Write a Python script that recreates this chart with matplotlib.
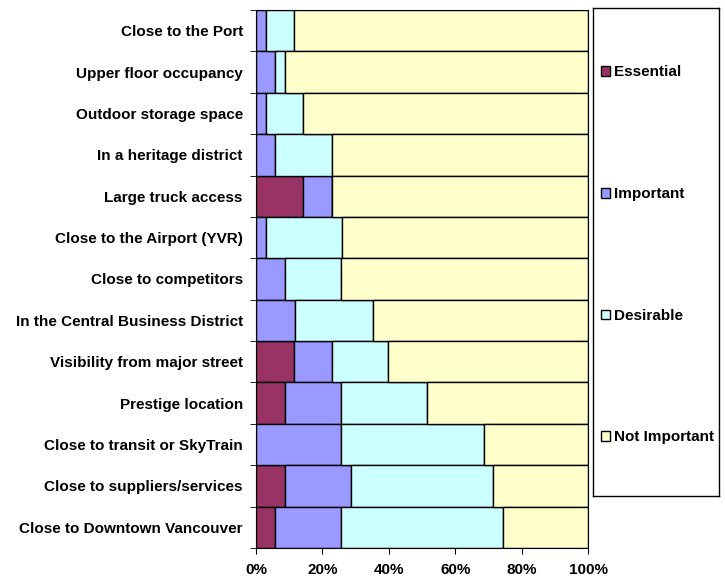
import matplotlib
matplotlib.use("Agg")
import matplotlib.pyplot as plt
import numpy as np

plt.rcParams["font.family"] = ["Liberation Sans", "DejaVu Sans"]
plt.rcParams["font.weight"] = "bold"

# factors, listed top to bottom as in the chart
factors = [
    "Close to the Port",
    "Upper floor occupancy",
    "Outdoor storage space",
    "In a heritage district",
    "Large truck access",
    "Close to the Airport (YVR)",
    "Close to competitors",
    "In the Central Business District",
    "Visibility from major street",
    "Prestige location",
    "Close to transit or SkyTrain",
    "Close to suppliers/services",
    "Close to Downtown Vancouver",
]

# share of responses (%)
essential = [0, 0, 0, 0, 14.3, 0, 0, 0, 11.4, 8.6, 0, 8.6, 5.7]
important = [2.9, 5.7, 2.9, 5.7, 8.6, 2.9, 8.6, 11.8, 11.4, 17.1, 25.7, 20.0, 20.0]
desirable = [8.6, 2.9, 11.4, 17.1, 0, 22.9, 17.1, 23.5, 17.1, 25.7, 42.9, 42.9, 48.6]
not_important = [88.6, 91.4, 85.7, 77.1, 77.1, 74.3, 74.3, 64.7, 60.0, 48.6, 31.4, 28.6, 25.7]

series = [
    ("Essential", essential, "#993366"),
    ("Important", important, "#9999FF"),
    ("Desirable", desirable, "#CCFFFF"),
    ("Not Important", not_important, "#FFFFCC"),
]

FS = 11.0

fig = plt.figure(figsize=(7.25, 5.79), dpi=100)
ax = fig.add_axes([256 / 725, 1 - 548 / 579, 332 / 725, 538 / 579])

y = np.arange(len(factors))
left = np.zeros(len(factors))
for name, vals, color in series:
    vals = np.array(vals)
    ax.barh(y, vals, left=left, height=1.0, color=color,
            edgecolor="black", linewidth=1.0, label=name)
    left += vals

ax.set_xlim(0, 100)
ax.set_ylim(len(factors) - 0.5, -0.5)
ax.set_xticks(range(0, 101, 20))
ax.set_xticklabels([f"{v}%" for v in range(0, 101, 20)], fontsize=FS, fontweight="bold")
ax.set_yticks(y)
ax.set_yticklabels(factors, fontsize=FS, fontweight="bold")
ax.tick_params(axis="y", length=0, pad=9.5)
ax.set_yticks(np.arange(-0.5, len(factors)), minor=True)
ax.tick_params(axis="y", which="minor", length=4, color="black")
ax.tick_params(axis="x", length=4, color="black", pad=7)
for s in ax.spines.values():
    s.set_color("black")

# legend sits in its own framed box to the right of the plot
lax = fig.add_axes([593 / 725, 1 - 496 / 579, 126 / 725, 488 / 579])
lax.set_xticks([])
lax.set_yticks([])
for s in lax.spines.values():
    s.set_color("black")
    s.set_linewidth(1.0)

handles, labels = ax.get_legend_handles_labels()
leg = lax.legend(handles, labels, loc="center left", bbox_to_anchor=(0, 0.494),
                 frameon=False, prop={"weight": "bold", "size": FS},
                 handlelength=0.6, handleheight=0.6, handletextpad=0.3,
                 labelspacing=7.05, borderpad=0.2, borderaxespad=0.3)
for p in leg.get_patches():
    p.set_edgecolor("black")

fig.savefig("out.png", dpi=100)
